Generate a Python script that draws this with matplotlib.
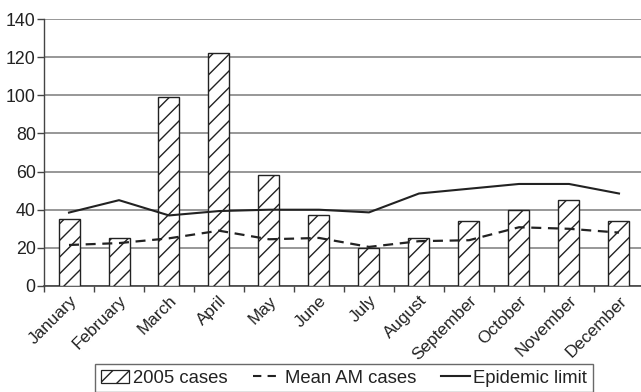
import matplotlib
matplotlib.use("Agg")
import matplotlib.pyplot as plt
from matplotlib.patches import Patch
from matplotlib.lines import Line2D
import numpy as np

months = ["January", "February", "March", "April", "May", "June", "July",
          "August", "September", "October", "November", "December"]
cases_2005 = [35, 25, 99, 122, 58, 37, 20, 25, 34, 40, 45, 34]
mean_am = [21.5, 22.5, 25, 29, 24.5, 25.2, 20.5, 23.5, 24, 30.8, 30, 28]
epidemic_limit = [38.5, 45, 37, 39.3, 40, 40, 38.6, 48.5, 51, 53.5, 53.5, 48.5]
yticks = [0, 20, 40, 60, 80, 100, 120, 140]

plt.rcParams['font.family'] = ['Liberation Sans', 'DejaVu Sans']
plt.rcParams['hatch.linewidth'] = 1.0
plt.rcParams['hatch.color'] = '#222222'

txt = '#222222'
fig = plt.figure(figsize=(6.41, 3.92), dpi=100)
ax = fig.add_axes([44/641, 106/392, 600/641, 267/392])

x = np.arange(len(months))
ax.bar(x, cases_2005, width=0.42, color='white', edgecolor='#222222',
       linewidth=1.0, hatch='//', zorder=3)
ax.plot(x, mean_am, color='#222222', linestyle=(0, (4.5, 3)), linewidth=1.6, zorder=4)
ax.plot(x, epidemic_limit, color='#222222', linestyle='-', linewidth=1.5, zorder=4)

ax.set_xlim(-0.5, 11.5)
ax.set_ylim(0, 140)
ax.set_yticks(yticks)
ax.set_yticklabels([str(v) for v in yticks], fontsize=12.8, color=txt)
ax.yaxis.grid(True, color='#7a7a7a', linewidth=1.1, zorder=0)
ax.set_axisbelow(True)

ax.set_xticks(x)
ax.set_xticklabels(months, rotation=45, ha='right', rotation_mode='anchor',
                   fontsize=12.3, color=txt)
ax.set_xticks(np.arange(-0.5, 12.0, 1.0), minor=True)
ax.tick_params(axis='x', which='major', length=0, pad=5)
ax.tick_params(axis='x', which='minor', length=4, width=1.0, color='#444444', direction='out')
ax.tick_params(axis='y', length=5, width=1.0, color='#444444', pad=1)

for s in ['top', 'right']:
    ax.spines[s].set_visible(False)
ax.spines['left'].set_color('#444444')
ax.spines['bottom'].set_color('#444444')
ax.spines['left'].set_linewidth(1.0)
ax.spines['bottom'].set_linewidth(1.2)

handles = [
    Patch(facecolor='white', edgecolor='#222222', hatch='//', linewidth=0.9, label='2005 cases'),
    Line2D([], [], color='#222222', linestyle=(0, (4, 3)), linewidth=1.5, label='Mean AM cases'),
    Line2D([], [], color='#222222', linestyle='-', linewidth=1.5, label='Epidemic limit'),
]
leg = fig.legend(handles=handles, loc='upper center', bbox_to_anchor=(344/641, 28/392),
                 ncol=3, frameon=True, fancybox=False, fontsize=13.3,
                 handlelength=1.55, handletextpad=0.2, columnspacing=1.35,
                 borderpad=0.3, borderaxespad=0.0, labelcolor=txt)
leg.get_frame().set_edgecolor('#444444')
leg.get_frame().set_linewidth(1.0)

fig.savefig('out.png', dpi=100)
